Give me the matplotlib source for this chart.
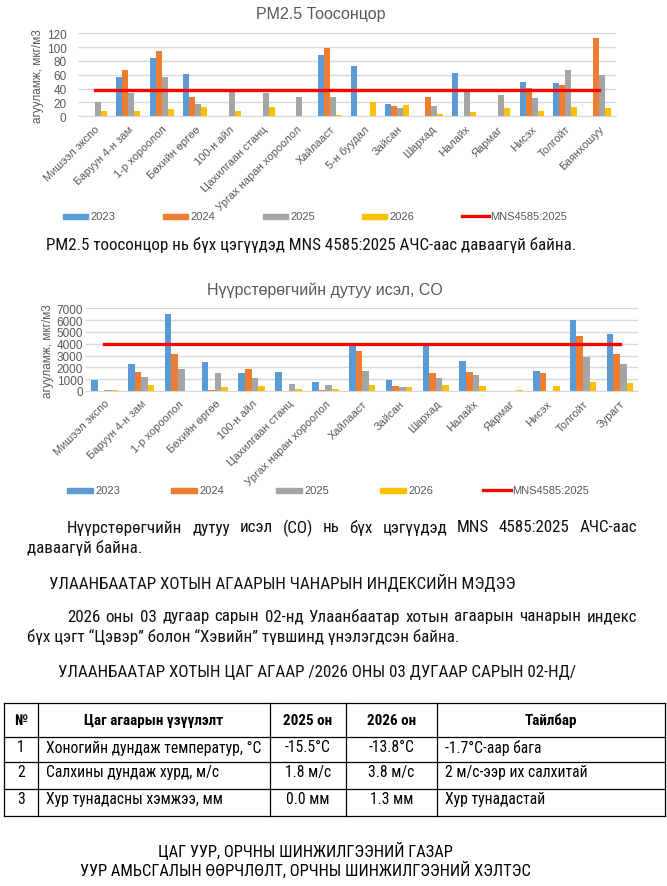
import matplotlib
matplotlib.use("Agg")
import matplotlib.pyplot as plt
import numpy as np
from matplotlib.lines import Line2D
from matplotlib.patches import Rectangle
from matplotlib import font_manager
from matplotlib.font_manager import FontProperties
from matplotlib.ft2font import FT2Font

W, H = 667, 887

# ---- data ----
years = ["2023", "2024", "2025", "2026"]
colors = ["#5B9BD5", "#ED7D31", "#A5A5A5", "#FFC000"]
std_label = "MNS4585:2025"

pm_sites = ["Мишээл экспо", "Баруун 4-н зам", "1-р хороолол", "Бөхийн өргөө", "100-н айл",
            "Цахилгаан станц", "Ургах наран хороолол", "Хайлааст", "5-н буудал", "Зайсан",
            "Шархад", "Налайх", "Яармаг", "Нисэх", "Толгойт", "Баянхошуу"]
pm_2023 = [0, 57, 85, 61, 0, 0, 0, 88, 73, 18, 0, 63, 0, 50, 48, 0]
pm_2024 = [0, 67, 95, 28, 0, 0, 0, 99, 0, 15, 28, 0, 0, 41, 45, 113]
pm_2025 = [20, 34, 57, 18, 37, 33, 28, 28, 0, 12, 15, 37, 31, 27, 67, 60]
pm_2026 = [7, 8, 11, 13, 7, 13, 0, 2, 21, 16, 3, 6, 12, 8, 13, 12]
pm_std = 38

co_sites = ["Мишээл экспо", "Баруун 4-н зам", "1-р хороолол", "Бөхийн өргөө", "100-н айл",
            "Цахилгаан станц", "Ургах наран хороолол", "Хайлааст", "Зайсан", "Шархад",
            "Налайх", "Яармаг", "Нисэх", "Толгойт", "Зурагт"]
co_2023 = [940, 2280, 6520, 2450, 1520, 1600, 760, 3950, 930, 3950, 2540, 0, 1690, 6010, 4820]
co_2024 = [0, 1600, 3130, 90, 1860, 0, 90, 3390, 420, 1520, 1600, 0, 1520, 4650, 3130]
co_2025 = [90, 1180, 1860, 1520, 1100, 590, 510, 1690, 340, 1100, 1350, 0, 0, 2880, 2280]
co_2026 = [90, 510, 0, 340, 420, 170, 170, 510, 340, 510, 420, 80, 420, 760, 680]
co_std = 4000

table_header = ["№", "Цаг агаарын үзүүлэлт", "2025 он", "2026 он", "Тайлбар"]
table_rows = [
    ["1", "Хоногийн дундаж температур, °C", "-15.5°C", "-13.8°C", "-1.7°C-аар бага"],
    ["2", "Салхины дундаж хурд, м/с", "1.8 м/с", "3.8 м/с", "2 м/с-ээр их салхитай"],
    ["3", "Хур тунадасны хэмжээ, мм", "0.0 мм", "1.3 мм", "Хур тунадастай"],
]

body_lines = [
    "PM2.5 тоосонцор нь бүх цэгүүдэд MNS 4585:2025 АЧС-аас даваагүй байна.",
    "Нүүрстөрөгчийн дутуу исэл (CO) нь бүх цэгүүдэд MNS 4585:2025 АЧС-аас",
    "даваагүй байна.",
    "УЛААНБААТАР ХОТЫН АГААРЫН ЧАНАРЫН ИНДЕКСИЙН МЭДЭЭ",
    "2026 оны 03 дугаар сарын 02-нд Улаанбаатар хотын агаарын чанарын индекс",
    "бүх цэгт “Цэвэр” болон “Хэвийн” түвшинд үнэлэгдсэн байна.",
    "УЛААНБААТАР ХОТЫН ЦАГ АГААР /2026 ОНЫ 03 ДУГААР САРЫН 02-НД/",
]
footer = ["ЦАГ УУР, ОРЧНЫ ШИНЖИЛГЭЭНИЙ ГАЗАР", "УУР АМЬСГАЛЫН ӨӨРЧЛӨЛТ, ОРЧНЫ ШИНЖИЛГЭЭНИЙ ХЭЛТЭС"]

# ---- fonts ----
CHART = ["Liberation Sans", "DejaVu Sans"]
plt.rcParams["font.family"] = CHART
GRAY = "#595959"

need = {ord(c) for c in "".join(body_lines + footer + sum(table_rows, []) + table_header) if c != " "}
prefer = ["Liberation Sans Narrow", "Arial Narrow", "Roboto Condensed", "PT Sans Narrow",
          "Fira Sans Condensed", "Open Sans Condensed", "IBM Plex Sans Condensed"]


def weight_of(f):
    return f.weight if isinstance(f.weight, int) else font_manager.weight_dict.get(f.weight, 400)


def narrow_font(bold):
    found = []
    for f in font_manager.fontManager.ttflist:
        if not any(f.name.startswith(p) for p in prefer) or f.style != "normal":
            continue
        w = weight_of(f)
        if (bold and w != 700) or (not bold and w != 400):
            continue
        try:
            cmap = FT2Font(f.fname).get_charmap()
        except Exception:
            continue
        if need <= set(cmap):
            found.append(f)
    found.sort(key=lambda f: next(i for i, p in enumerate(prefer) if f.name.startswith(p)))
    if found:
        return FontProperties(fname=found[0].fname)
    return FontProperties(family=["Liberation Sans", "DejaVu Sans"], weight="bold" if bold else "normal")


BODY = narrow_font(False)
BODYB = narrow_font(True)

fig = plt.figure(figsize=(W / 100, H / 100), dpi=100)
renderer = fig.canvas.get_renderer()


def rect(x0, y0, x1, y1):
    return [x0 / W, 1 - y1 / H, (x1 - x0) / W, (y1 - y0) / H]


def fx(x):
    return x / W


def fy(y):
    return 1 - y / H


def fit_size(s, fp, target):
    t = fig.text(0, 0, s, fontproperties=fp, fontsize=12)
    w = t.get_window_extent(renderer).width
    t.remove()
    return 12 * target / w


def bar_chart(box, sites, series, std, ymax, ystep, title, title_xy, tick_pad, legend_x, legend_y, patch_w):
    ax = fig.add_axes(rect(*box))
    n = len(sites)
    x = np.arange(n)
    bw = 0.18
    for i, (vals, c) in enumerate(zip(series, colors)):
        ax.bar(x + (i - 1.5) * bw, vals, bw, color=c, zorder=2)
    ax.plot([x[0], x[-1]], [std, std], color="#FF0000", lw=2.4, zorder=3)
    ax.set_xlim(-0.5, n - 0.5)
    ax.set_ylim(0, ymax)
    ax.set_yticks(np.arange(0, ymax + 1, ystep))
    ax.yaxis.grid(True, color="#D9D9D9", lw=1.0, zorder=0)
    ax.set_axisbelow(True)
    for s in ["top", "right", "left"]:
        ax.spines[s].set_visible(False)
    ax.spines["bottom"].set_color("#D9D9D9")
    ax.tick_params(axis="both", length=0, colors=GRAY, labelsize=8.5)
    ax.tick_params(axis="y", pad=tick_pad)
    ax.set_xticks(x)
    ax.set_xticklabels(sites, rotation=45, ha="right", rotation_mode="anchor", fontsize=8)
    ax.tick_params(axis="x", pad=5)
    ax.set_ylabel("агууламж, мкг/м3", color=GRAY, fontsize=8.5, labelpad=2)
    fig.text(fx(title_xy[0]), fy(title_xy[1]), title, ha="center", va="center", color=GRAY, fontsize=11.5)
    for i, (lab, c) in enumerate(zip(years, colors)):
        lx = legend_x[i]
        fig.add_artist(Rectangle((fx(lx), fy(legend_y + 2.5)), patch_w / W, 5 / H,
                                 transform=fig.transFigure, color=c))
        fig.text(fx(lx + patch_w + 2), fy(legend_y), lab, ha="left", va="center", color=GRAY, fontsize=8)
    lx = legend_x[4]
    fig.add_artist(Line2D([fx(lx), fx(lx + patch_w + 2)], [fy(legend_y)] * 2,
                          transform=fig.transFigure, color="#FF0000", lw=2.4))
    fig.text(fx(lx + patch_w + 3), fy(legend_y), std_label, ha="left", va="center", color=GRAY, fontsize=8)
    return ax


bar_chart((77.7, 34.3, 615.7, 117.3), pm_sites, [pm_2023, pm_2024, pm_2025, pm_2026], pm_std,
          120, 20, "PM2.5 Тоосонцор", (321, 14), 8, [63, 163, 263, 362, 462], 217, 25)
bar_chart((86, 309.3, 638.3, 392), co_sites, [co_2023, co_2024, co_2025, co_2026], co_std,
          7000, 1000, "Нүүрстөрөгчийн дутуу исэл, CO", (325, 290), 2, [67, 171, 276, 380, 483], 491, 26)

# ---- body text ----
BODY_SIZE = fit_size(body_lines[0], BODY, 532)
CELL_SIZE = fit_size(table_rows[0][1], BODY, 214)


def line(s, x0, y, x1=None, size=BODY_SIZE):
    kw = dict(va="center", ha="left", fontproperties=BODY, fontsize=size, color="#111111")
    if x1 is None:
        fig.text(fx(x0), fy(y), s, **kw)
        return
    words = s.split(" ")
    texts = [fig.text(0, fy(y), w, **kw) for w in words]
    widths = [t.get_window_extent(renderer).width for t in texts]
    gap = (x1 - x0 - sum(widths)) / (len(words) - 1)
    x = x0
    for t, w in zip(texts, widths):
        t.set_x(fx(x))
        x += w + gap


line(body_lines[0], 46, 245)
line(body_lines[1], 67, 528, 637)
line(body_lines[2], 27, 548)
line(body_lines[3], 49, 583)
line(body_lines[4], 67, 617, 637)
line(body_lines[5], 27, 637)
line(body_lines[6], 58, 673)

# ---- table ----
cols = [3.5, 38, 270, 346, 437, 665]
rows = [704, 738, 763, 790, 817]
for y in rows:
    fig.add_artist(Line2D([fx(cols[0]), fx(cols[-1])], [fy(y)] * 2, transform=fig.transFigure,
                          color="black", lw=0.9))
for x in cols:
    fig.add_artist(Line2D([fx(x)] * 2, [fy(rows[0]), fy(rows[-1])], transform=fig.transFigure,
                          color="black", lw=0.9))
for j, h in enumerate(table_header):
    fig.text(fx((cols[j] + cols[j + 1]) / 2), fy((rows[0] + rows[1]) / 2), h, ha="center", va="center",
             fontproperties=BODYB, fontsize=CELL_SIZE * 0.97)
for i, r in enumerate(table_rows):
    y = rows[i + 1] + 10
    for j, v in enumerate(r):
        if j in (1, 4):
            fig.text(fx(cols[j] + 8), fy(y), v, ha="left", va="center", fontproperties=BODY, fontsize=CELL_SIZE)
        else:
            fig.text(fx((cols[j] + cols[j + 1]) / 2), fy(y), v, ha="center", va="center",
                     fontproperties=BODY, fontsize=CELL_SIZE)

for k, s in enumerate(footer):
    fig.text(fx(305), fy(851 + 19 * k), s, ha="center", va="center", fontproperties=BODY,
             fontsize=BODY_SIZE * 0.97)

fig.savefig("out.png", dpi=100)
